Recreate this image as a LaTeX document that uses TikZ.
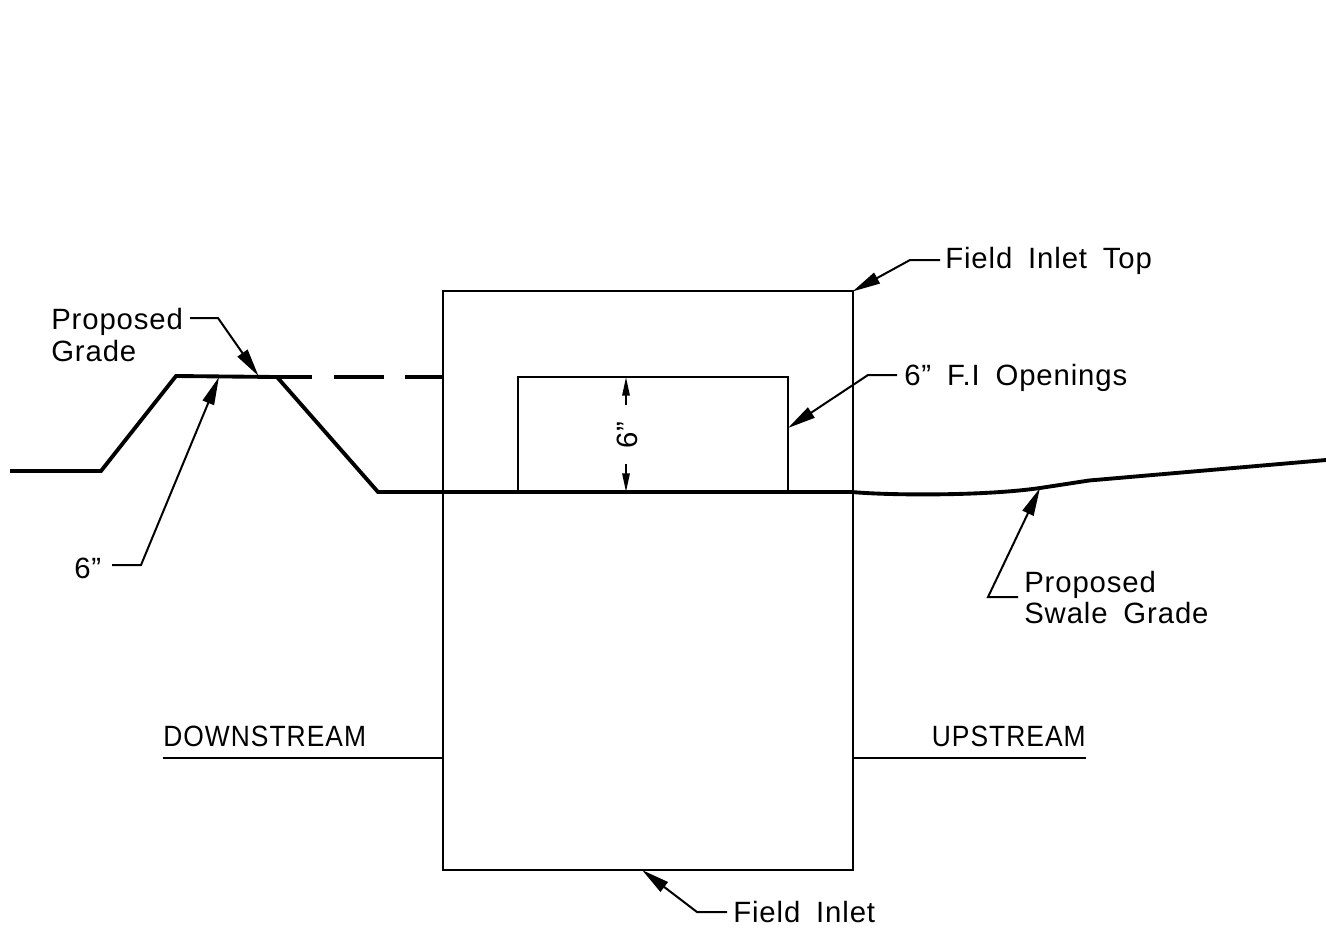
\documentclass[tikz,border=0pt]{standalone}
\usepackage{fontspec}
\setmainfont[LetterSpace=3,WordSpace=1.75]{Liberation Sans}
\newfontfamily\capsfont[FakeStretch=0.9,LetterSpace=3.5]{Liberation Sans}
\usetikzlibrary{arrows.meta}
\tikzset{
  thinline/.style={line width=1.5pt},
  gradeline/.style={line width=2.9pt,line join=miter},
  leader/.style={line width=1.5pt,-{Triangle[length=21pt,width=9pt]}},
  dimtip/.style={line width=1.5pt,-{Triangle[length=14pt,width=5.5pt]}},
  note/.style={inner sep=0pt,anchor=base west,font=\fontsize{22}{26}\selectfont},
  capsnote/.style={note,font=\fontsize{22}{26}\selectfont\capsfont},
  boxnode/.style={draw,thinline,inner sep=0pt,outer sep=0pt}
}
\begin{document}
\begin{tikzpicture}[x=0.75pt,y=-0.75pt]
\useasboundingbox (0,0) rectangle (1326,950);

\node (inlet) [boxnode,minimum width=307.5pt,minimum height=433.9pt] at (647.5,580.75) {};
\node (opening) [boxnode,minimum width=202.5pt,minimum height=86.25pt] at (652.5,434.5) {};

\node (lblgrade) [note] at (51,329) {Proposed};
\node (lblgradeb) [note] at (51,361) {Grade};
\node (lblsix) [note] at (74,578) {6”};
\node (lbltop) [note] at (945,268) {Field Inlet Top};
\node (lblopen) [note] at (904,385) {6” F.I Openings};
\node (lblswale) [note] at (1024,592) {Proposed};
\node (lblswaleb) [note] at (1024,623) {Swale Grade};
\node (lblinlet) [note] at (733,922) {Field Inlet};
\node (lbldown) [capsnote] at (163,746) {DOWNSTREAM};
\node (lblup) [capsnote,anchor=base east] at (1086,746) {UPSTREAM};
\node (lbldim) [note,anchor=center,rotate=90] at (627,435) {6”};

\coordinate (gradeA) at (10,471);
\coordinate (gradeB) at (101,471);
\coordinate (gradeC) at (176,376);
\coordinate (gradeD) at (277,377);
\coordinate (gradeE) at (378,492);
\coordinate (gradeF) at (852,492);
\coordinate (swaleA) at (890,495.5);
\coordinate (swaleA2) at (985,496);
\coordinate (swaleB) at (1040,488);
\coordinate (swaleC) at (1089,480.5);
\coordinate (swaleD) at (1326,460);
\coordinate (dashA) at (312,377);
\coordinate (dashB) at (334,377);
\coordinate (dashC) at (384,377);
\coordinate (dashD) at (405,377);
\coordinate (dashE) at (442,377);

\coordinate (lgradeS) at (190,318);
\coordinate (lgradeE) at (218,318);
\coordinate (lgradeT) at (258.5,376);
\coordinate (lsixS) at (112,565);
\coordinate (lsixE) at (141,565);
\coordinate (lsixT) at (219,377);
\coordinate (lswaleS) at (1018,597);
\coordinate (lswaleE) at (988,597);
\coordinate (ltopS) at (940,260);
\coordinate (ltopE) at (910,260);
\coordinate (lopenS) at (897,375);
\coordinate (lopenE) at (868,375);
\coordinate (lopenT) at (788,428);
\coordinate (linletS) at (727,912);
\coordinate (linletE) at (697,912);
\coordinate (linletT) at (642,870);

\coordinate (downS) at (163,758);
\coordinate (upE) at (1086,758);
\coordinate (dimtopS) at (626,405);
\coordinate (dimtopT) at (626,377);
\coordinate (dimbotS) at (626,464);
\coordinate (dimbotT) at (626,492);

\draw [gradeline] (gradeA) -- (gradeB) -- (gradeC) -- (gradeD) -- (gradeE) -- (gradeF);
\draw [gradeline] (gradeD) -- (dashA) (dashB) -- (dashC) (dashD) -- (dashE);
\draw [gradeline] (gradeF) .. controls (swaleA) and (swaleA2) .. (swaleB) -- (swaleC) -- (swaleD);

\draw [leader] (lgradeS) -- (lgradeE) -- (lgradeT);
\draw [leader] (lsixS) -- (lsixE) -- (lsixT);
\draw [leader] (lswaleS) -- (lswaleE) -- (swaleB);
\draw [leader] (ltopS) -- (ltopE) -- (inlet.north east);
\draw [leader] (lopenS) -- (lopenE) -- (lopenT);
\draw [leader] (linletS) -- (linletE) -- (linletT);

\draw [thinline] (downS) -- (inlet.west |- downS);
\draw [thinline] (inlet.east |- upE) -- (upE);

\draw [dimtip] (dimtopS) -- (dimtopT);
\draw [dimtip] (dimbotS) -- (dimbotT);
\end{tikzpicture}
\end{document}
